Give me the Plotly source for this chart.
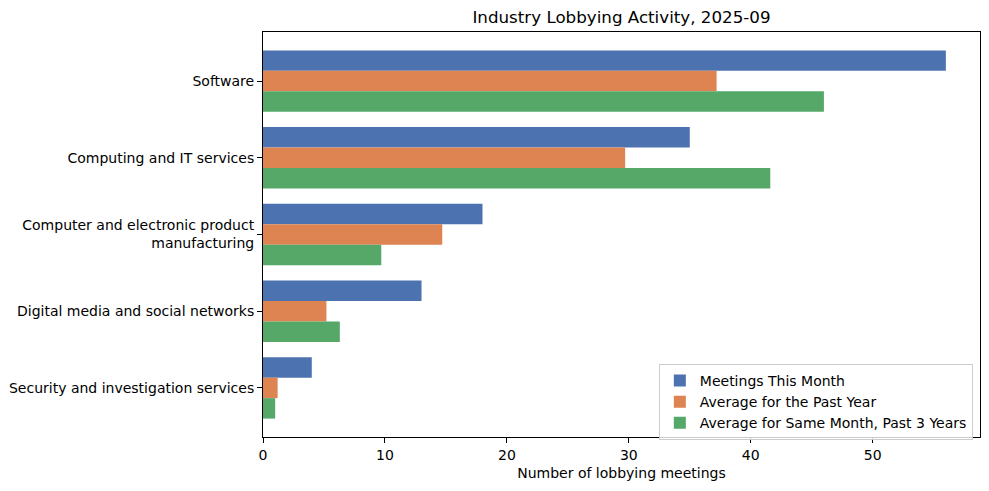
import plotly.graph_objects as go

categories = [
    "Software",
    "Computing and IT services",
    "Computer and electronic product<br>manufacturing",
    "Digital media and social networks",
    "Security and investigation services",
]
this_month = [56, 35, 18, 13, 4]
past_year = [37.2, 29.7, 14.7, 5.2, 1.2]
same_month_3y = [46.0, 41.6, 9.7, 6.3, 1.0]
series_names = ["Meetings This Month", "Average for the Past Year", "Average for Same Month, Past 3 Years"]
colors = ["#4C72B0", "#DD8452", "#55A868"]
xticks = [0, 10, 20, 30, 40, 50]

pos = list(range(len(categories)))
fig = go.Figure()
for name, vals, c in zip(series_names, [this_month, past_year, same_month_3y], colors):
    fig.add_trace(go.Bar(y=pos, x=vals, orientation="h", name=name, marker=dict(color=c, line=dict(width=0))))

# page body has an 8px margin, so the figure is shifted by (8, 8)
W, H = 981, 483
font = "DejaVu Sans, sans-serif"
fig.update_layout(
    width=W, height=H,
    margin=dict(l=255, r=9, t=24, b=54, autoexpand=False),
    paper_bgcolor="white", plot_bgcolor="white",
    barmode="group", bargap=0.2, bargroupgap=0,
    font=dict(family=font, size=14, color="black"),
    title=dict(text="Industry Lobbying Activity, 2025-09", x=(621.5 - 8) / W, xanchor="center",
               y=1 - 9 / H, yanchor="middle", font=dict(size=16.7)),
    xaxis=dict(range=[0, 58.8], tickvals=xticks, showgrid=False, zeroline=False, automargin=False,
               showline=True, linecolor="black", linewidth=1, mirror=True,
               ticks="outside", ticklen=5, tickcolor="black",
               title=dict(text="Number of lobbying meetings", font=dict(size=14), standoff=6)),
    yaxis=dict(range=[4.64, -0.64], tickvals=pos, ticktext=categories, showgrid=False, zeroline=False,
               automargin=False,
               showline=True, linecolor="black", linewidth=1, mirror=True,
               ticks="outside", ticklen=5, tickcolor="black"),
    legend=dict(x=0.99, y=-0.007, xanchor="right", yanchor="bottom", bgcolor="rgba(255,255,255,0.8)",
                bordercolor="#cccccc", borderwidth=1, font=dict(size=14), traceorder="normal"),
)
fig.write_html("out.html")
